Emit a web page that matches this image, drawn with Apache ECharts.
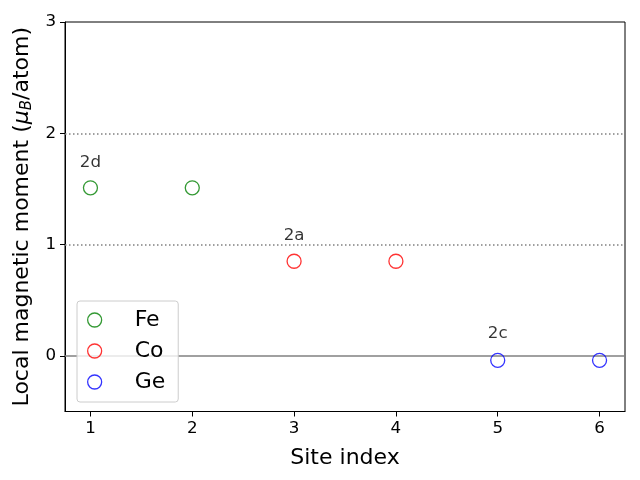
<!DOCTYPE html>
<html><head><meta charset="utf-8">
<script src="https://cdn.jsdelivr.net/npm/echarts@6/dist/echarts.min.js"></script>
<style>html,body{margin:0;padding:0;background:#fff}#c{width:640px;height:480px}</style>
</head><body><div id="c"></div>
<script>
const feSites = [1, 2];
const feValues = [1.51, 1.51];
const coSites = [3, 4];
const coValues = [0.85, 0.85];
const geSites = [5, 6];
const geValues = [-0.04, -0.04];
const labelTexts = ['2d', '2a', '2c'];
const labelX = [1, 3, 5];
const labelY = [1.74, 1.08, 0.2];
const dottedLevels = [1, 2];
const solidLevels = [0];
const xTicks = [1, 2, 3, 4, 5, 6];
const yTicks = [0, 1, 2, 3];

const font = 'DejaVu Sans';
const zip = (a, b) => a.map((v, i) => [v, b[i]]);
function sc(name, xs, ys, color, extra) {
  return Object.assign({
    name, type: 'scatter', data: zip(xs, ys), symbol: 'circle', symbolSize: 14,
    itemStyle: { color: 'transparent', borderColor: color, borderWidth: 1.3 }, z: 5
  }, extra || {});
}
const chart = echarts.init(document.getElementById('c'), null, { renderer: 'canvas' });
chart.setOption({
  animation: false,
  textStyle: { fontFamily: font },
  grid: { left: 65, right: 15, top: 22, bottom: 68.5, show: true, borderColor: '#000', borderWidth: 1, backgroundColor: 'transparent' },
  xAxis: {
    type: 'value', min: 0.75, max: 6.25,
    name: 'Site index', nameLocation: 'middle', nameGap: 36,
    nameTextStyle: { fontSize: 22, color: '#000', fontFamily: font },
    axisLine: { show: true, onZero: false, lineStyle: { color: '#000' } },
    axisTick: { show: true, inside: false, length: 5, lineStyle: { color: '#000' }, customValues: xTicks },
    axisLabel: { fontSize: 16.7, color: '#000', fontFamily: font, margin: 9, customValues: xTicks },
    splitLine: { show: false }
  },
  yAxis: {
    type: 'value', min: -0.5, max: 3,
    name: '{a|Local magnetic moment (}{m|μ}{s|B}{a|/atom)}', nameLocation: 'middle', nameGap: 30,
    nameTextStyle: { color: '#000', fontFamily: font, rich: {
      a: { fontSize: 22, fontFamily: font, color: '#000' },
      m: { fontSize: 22, fontFamily: font, fontStyle: 'italic', color: '#000' },
      s: { fontSize: 15, fontFamily: font, fontStyle: 'italic', color: '#000', padding: [10, 0, 0, 0] }
    } },
    axisLine: { show: true, onZero: false, lineStyle: { color: '#000' } },
    axisTick: { show: true, inside: false, length: 5, lineStyle: { color: '#000' }, customValues: yTicks },
    axisLabel: { fontSize: 16.7, color: '#000', fontFamily: font, margin: 9, customValues: yTicks },
    splitLine: { show: false }
  },
  legend: {
    orient: 'vertical', left: 77, top: 301,
    padding: [8, 13, 9, 10], itemGap: 9, itemWidth: 40, itemHeight: 14,
    backgroundColor: 'rgba(255,255,255,0.8)', borderColor: '#cccccc', borderWidth: 1, borderRadius: 3,
    textStyle: { fontSize: 22, lineHeight: 22, color: '#000', fontFamily: font, padding: [0, 0, 0, 15] },
    data: [
      { name: 'Fe', icon: 'circle', itemStyle: { color: 'transparent', borderColor: '#008000', borderWidth: 1.3 } },
      { name: 'Co', icon: 'circle', itemStyle: { color: 'transparent', borderColor: '#ff0000', borderWidth: 1.3 } },
      { name: 'Ge', icon: 'circle', itemStyle: { color: 'transparent', borderColor: '#0000ff', borderWidth: 1.3 } }
    ]
  },
  series: [
    sc('Fe', feSites, feValues, '#008000', {
      markLine: {
        silent: true, symbol: 'none', label: { show: false }, z: 1,
        data: dottedLevels.map(v => ({ yAxis: v, lineStyle: { color: '#808080', width: 1.5, type: [1.5, 2.5] } }))
          .concat(solidLevels.map(v => ({ yAxis: v, lineStyle: { color: '#808080', width: 1.5, type: 'solid' } })))
      }
    }),
    sc('Co', coSites, coValues, '#ff0000'),
    sc('Ge', geSites, geValues, '#0000ff'),
    {
      name: 'labels', type: 'scatter', symbolSize: 0, silent: true, z: 6,
      data: labelX.map((x, i) => ({ value: [x, labelY[i]], label: { formatter: labelTexts[i] } })),
      label: { show: true, position: 'inside', fontSize: 16.7, color: '#000', fontFamily: font }
    }
  ]
});
</script></body></html>
